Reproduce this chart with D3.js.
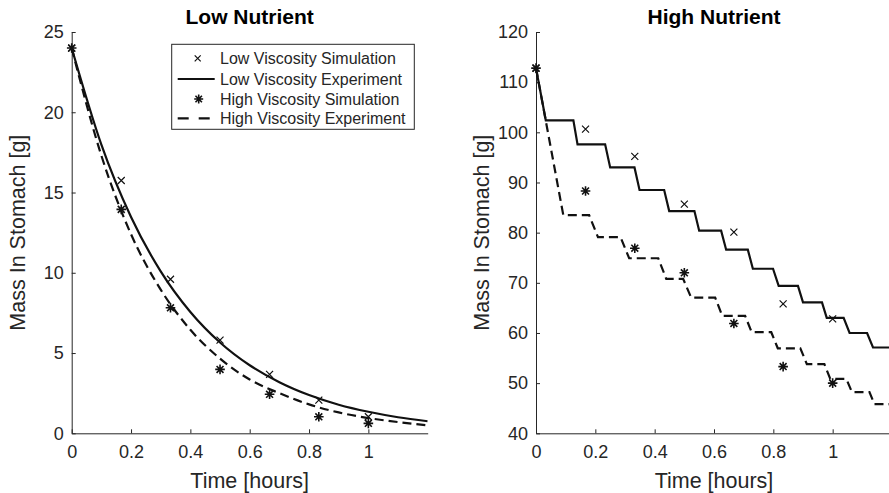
<!DOCTYPE html>
<html>
<head>
<meta charset="utf-8">
<script src="https://cdn.jsdelivr.net/npm/d3@7"></script>
<style>
  body { margin: 0; background: #fff; }
  svg { display: block; font-family: "Liberation Sans", Arial, sans-serif; }
  .axis path, .axis line { stroke: #262626; }
  .axis text { fill: #262626; font-size: 18px; }
</style>
</head>
<body>
<div id="chart"></div>
<script>
// simulation sample times (hours)
var simTimes = [0, 0.167, 0.333, 0.5, 0.667, 0.833, 1];

// low nutrient panel
var lowNutLowSim = [24, 15.75, 9.6, 5.8, 3.67, 2.07, 1.03];
var lowNutHighSim = [24, 13.95, 7.82, 3.98, 2.43, 1.03, 0.62];
var lowNutExpTimes = [0, 0.1, 0.2, 0.3, 0.4, 0.5, 0.6, 0.7, 0.8, 0.9, 1.0, 1.1, 1.2];
var lowNutLowExp = [24, 17.98, 13.47, 10.09, 7.56, 5.66, 4.24, 3.18, 2.38, 1.78, 1.34, 1.0, 0.75];
var lowNutHighExp = [24, 17.3, 12.4, 8.95, 6.45, 4.65, 3.35, 2.5, 1.8, 1.3, 0.95, 0.7, 0.5];

// high nutrient panel
var highNutLowSim = [112.8, 100.65, 95.2, 85.7, 80.1, 65.8, 62.8];
var highNutHighSim = [112.8, 88.3, 76.9, 72.0, 61.9, 53.3, 50.0];
var highNutLowExpTimes = [0, 0.033, 0.126, 0.140, 0.233, 0.250, 0.332, 0.349, 0.432, 0.449, 0.534, 0.550,
  0.624, 0.641, 0.714, 0.731, 0.799, 0.818, 0.883, 0.900, 0.964, 0.980, 1.037, 1.057, 1.116, 1.136, 1.2];
var highNutLowExp = [112.8, 102.4, 102.4, 97.6, 97.6, 93.0, 93.0, 88.5, 88.5, 84.3, 84.3, 80.4,
  80.4, 76.6, 76.6, 72.8, 72.8, 69.4, 69.4, 66.1, 66.1, 63.0, 63.0, 60.0, 60.0, 57.1, 57.1];
var highNutHighExpTimes = [0, 0.092, 0.179, 0.209, 0.285, 0.314, 0.412, 0.439, 0.496, 0.523, 0.604, 0.628,
  0.705, 0.727, 0.793, 0.815, 0.891, 0.913, 0.972, 0.992, 1.046, 1.065, 1.124, 1.141, 1.19, 1.2];
var highNutHighExp = [112.8, 83.5, 83.5, 79.1, 79.1, 74.9, 74.9, 70.8, 70.8, 67.05, 67.05, 63.4,
  63.4, 60.15, 60.15, 56.95, 56.95, 53.8, 53.8, 50.85, 50.85, 48.2, 48.2, 45.8, 45.8, 45.3];

var xTicks = [0, 0.2, 0.4, 0.6, 0.8, 1];
var legendLabels = ["Low Viscosity Simulation", "Low Viscosity Experiment",
  "High Viscosity Simulation", "High Viscosity Experiment"];

var W = 889, H = 493;

var svg = d3.select("#chart").append("svg")
  .attr("width", W)
  .attr("height", H);

var zip = (xs, ys) => xs.map((t, i) => [t, ys[i]]);

function xPath(r) {
  return `M${-r},${-r}L${r},${r}M${-r},${r}L${r},${-r}`;
}
function starPath(r) {
  var d = r * 0.72;
  return `M${-r},0L${r},0M0,${-r}L0,${r}M${-d},${-d}L${d},${d}M${-d},${d}L${d},${-d}`;
}

// draw one panel
function panel(opt) {
  var x = d3.scaleLinear().domain([0, 1.2]).range([opt.left, opt.left + 356]);
  var y = d3.scaleLinear().domain(opt.yDomain).range([433.3, 32]);

  var g = svg.append("g");

  var clipId = "clip" + opt.id;
  svg.append("clipPath").attr("id", clipId)
    .append("rect")
    .attr("x", x(0) - 10).attr("y", y(opt.yDomain[1]) - 10)
    .attr("width", x(1.2) - x(0) + 10).attr("height", y(opt.yDomain[0]) - y(opt.yDomain[1]) + 10);

  // axes (ticks point inward, no box)
  g.append("g").attr("class", "axis")
    .attr("transform", `translate(0, ${y(opt.yDomain[0])})`)
    .call(d3.axisBottom(x).tickValues(xTicks).tickSize(-4).tickSizeOuter(0).tickPadding(12)
      .tickFormat(d3.format("~g")))
    .call((a) => a.selectAll("text").attr("dy", "0.71em"));

  g.append("g").attr("class", "axis")
    .attr("transform", `translate(${x(0)}, 0)`)
    .call(d3.axisLeft(y).tickValues(opt.yTicks).tickSize(-4).tickSizeOuter(0).tickPadding(8));

  g.selectAll(".axis path").attr("stroke-width", 1);
  g.selectAll(".axis line").attr("stroke-width", 1);

  // labels
  g.append("text")
    .attr("x", (x(0) + x(1.2)) / 2).attr("y", 24)
    .attr("text-anchor", "middle")
    .attr("font-weight", "bold").attr("font-size", 21).attr("fill", "#000")
    .text(opt.title);

  g.append("text")
    .attr("x", (x(0) + x(1.2)) / 2).attr("y", 487.5)
    .attr("text-anchor", "middle")
    .attr("font-size", 21.5).attr("fill", "#262626")
    .text("Time [hours]");

  g.append("text")
    .attr("transform", `translate(${opt.ylabelX}, ${(y.range()[0] + y.range()[1]) / 2}) rotate(-90)`)
    .attr("text-anchor", "middle")
    .attr("font-size", 21.5).attr("fill", "#262626")
    .text("Mass In Stomach [g]");

  var line = d3.line().x((d) => x(d[0])).y((d) => y(d[1]));
  var plot = g.append("g").attr("clip-path", `url(#${clipId})`);

  plot.append("path")
    .datum(zip(opt.highExpT, opt.highExp))
    .attr("fill", "none").attr("stroke", "#111").attr("stroke-width", 2.2)
    .attr("stroke-dasharray", "9,5")
    .attr("d", line.curve(opt.curve));

  plot.append("path")
    .datum(zip(opt.lowExpT, opt.lowExp))
    .attr("fill", "none").attr("stroke", "#111").attr("stroke-width", 2.2)
    .attr("d", line.curve(opt.curve));

  // markers
  plot.selectAll(".xmark")
    .data(zip(simTimes, opt.lowSim))
    .join("path")
    .attr("class", "xmark")
    .attr("transform", (d) => `translate(${x(d[0])}, ${y(d[1])})`)
    .attr("d", xPath(3.5))
    .attr("stroke", "#111").attr("stroke-width", 1.2).attr("fill", "none");

  plot.selectAll(".star")
    .data(zip(simTimes, opt.highSim))
    .join("path")
    .attr("class", "star")
    .attr("transform", (d) => `translate(${x(d[0])}, ${y(d[1])})`)
    .attr("d", starPath(4.8))
    .attr("stroke", "#111").attr("stroke-width", 1.6).attr("fill", "none");

  return { x: x, y: y, g: g };
}

panel({
  id: "L", left: 71.7, title: "Low Nutrient", ylabelX: 25,
  yDomain: [0, 25], yTicks: [0, 5, 10, 15, 20, 25],
  lowSim: lowNutLowSim, highSim: lowNutHighSim,
  lowExpT: lowNutExpTimes, lowExp: lowNutLowExp,
  highExpT: lowNutExpTimes, highExp: lowNutHighExp,
  curve: d3.curveMonotoneX
});

panel({
  id: "R", left: 536, title: "High Nutrient", ylabelX: 489,
  yDomain: [40, 120], yTicks: [40, 50, 60, 70, 80, 90, 100, 110, 120],
  lowSim: highNutLowSim, highSim: highNutHighSim,
  lowExpT: highNutLowExpTimes, lowExp: highNutLowExp,
  highExpT: highNutHighExpTimes, highExp: highNutHighExp,
  curve: d3.curveLinear
});

// legend (left panel only)
var leg = svg.append("g").attr("transform", "translate(171.7, 44.3)");
leg.append("rect")
  .attr("width", 242.6).attr("height", 85)
  .attr("fill", "#fff").attr("stroke", "#262626").attr("stroke-width", 1);

var rows = leg.selectAll(".row")
  .data(legendLabels)
  .join("g")
  .attr("class", "row")
  .attr("transform", (d, i) => `translate(0, ${[14, 34.7, 54.7, 74][i]})`);

rows.append("text")
  .attr("x", 48.3).attr("dy", "0.35em")
  .attr("font-size", 16).attr("fill", "#262626")
  .text((d) => d);

rows.filter((d, i) => i === 0).append("path")
  .attr("transform", "translate(26, 0)")
  .attr("d", xPath(3)).attr("stroke", "#111").attr("stroke-width", 1.2);
rows.filter((d, i) => i === 2).append("path")
  .attr("transform", "translate(27, 0)")
  .attr("d", starPath(4.5)).attr("stroke", "#111").attr("stroke-width", 1.6);
rows.filter((d, i) => i === 1 || i === 3).append("line")
  .attr("x1", 6).attr("x2", 43)
  .attr("stroke", "#111").attr("stroke-width", 2.2)
  .attr("stroke-dasharray", (d, i) => (i === 1 ? "11,10" : null));
</script>
</body>
</html>
